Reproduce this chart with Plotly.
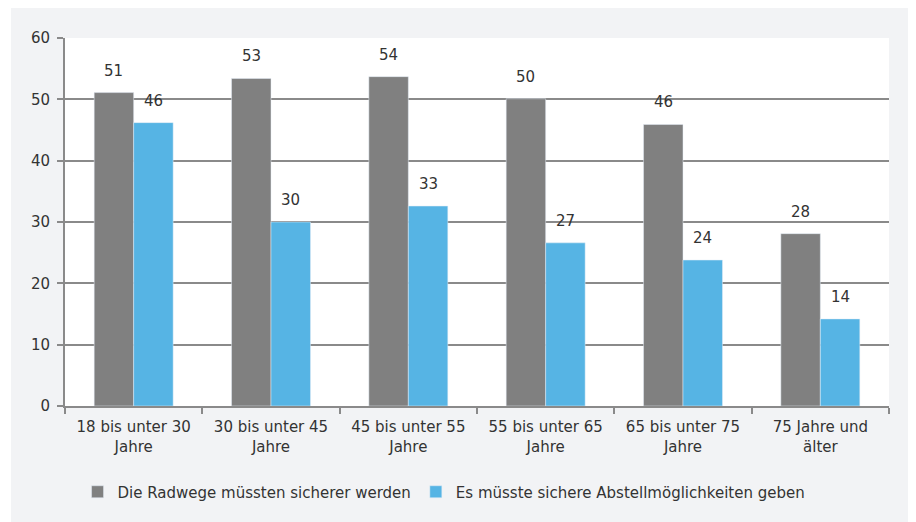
import plotly.graph_objects as go

# Daten
ALTERSGRUPPEN = [
    "18 bis unter 30<br>Jahre",
    "30 bis unter 45<br>Jahre",
    "45 bis unter 55<br>Jahre",
    "55 bis unter 65<br>Jahre",
    "65 bis unter 75<br>Jahre",
    "75 Jahre und<br>älter",
]
RADWEGE = [51.1, 53.4, 53.7, 50.1, 45.9, 28.1]
ABSTELL = [46.2, 30.0, 32.6, 26.6, 23.8, 14.2]
RADWEGE_LABEL = ["51", "53", "54", "50", "46", "28"]
ABSTELL_LABEL = ["46", "30", "33", "27", "24", "14"]

GRAU = "#808080"
BLAU = "#56b4e4"
ACHSE = "#8a8a8a"
TEXT = "#333333"
FONT = "DejaVu Sans"
GROESSE = 15

BARGAP = 0.425
PLOT_W = 824  # Breite der Zeichenfläche in px
BAR_PX = PLOT_W / len(ALTERSGRUPPEN) * (1 - BARGAP) / 2

fig = go.Figure()
fig.add_bar(x=ALTERSGRUPPEN, y=RADWEGE, name="Die Radwege müssten sicherer werden",
            marker_color=GRAU)
fig.add_bar(x=ALTERSGRUPPEN, y=ABSTELL, name="Es müsste sichere Abstellmöglichkeiten geben",
            marker_color=BLAU)

# Wertelabels über den Balken
for werte, labels, versatz in [(RADWEGE, RADWEGE_LABEL, -BAR_PX / 2),
                               (ABSTELL, ABSTELL_LABEL, BAR_PX / 2)]:
    for kat, wert, txt in zip(ALTERSGRUPPEN, werte, labels):
        fig.add_annotation(x=kat, y=wert, text=txt, showarrow=False,
                           xshift=versatz, yshift=22, yanchor="middle",
                           font=dict(size=GROESSE, color=TEXT, family=FONT))

fig.update_layout(
    width=908, height=514,
    barmode="group", bargap=BARGAP, bargroupgap=0,
    paper_bgcolor="#f2f3f5", plot_bgcolor="white",
    margin=dict(l=57, r=27, t=30, b=116, autoexpand=False),
    font=dict(family=FONT, size=GROESSE, color=TEXT),
    legend=dict(
        orientation="h", x=0.46, xanchor="center",
        yref="container", y=30 / 514, yanchor="middle",
        font=dict(size=GROESSE, color=TEXT), itemwidth=30,
        bgcolor="rgba(0,0,0,0)",
    ),
    shapes=[
        dict(type="rect", xref="paper", yref="paper", x0=-0.1, x1=-54 / PLOT_W,
             y0=-0.4, y1=1.2, fillcolor="white", line_width=0, layer="below"),
    ],
)
fig.update_yaxes(
    range=[0, 60], dtick=10, showgrid=True, gridcolor=ACHSE, gridwidth=2,
    showline=True, linecolor=ACHSE, linewidth=2, ticks="outside",
    tickcolor=ACHSE, ticklen=6, tickwidth=2, zeroline=False,
    ticklabelstandoff=4, tickfont=dict(size=GROESSE, color=TEXT),
)
fig.update_xaxes(
    showline=True, linecolor=ACHSE, linewidth=2, ticks="outside",
    tickson="boundaries", tickcolor=ACHSE, ticklen=6, tickwidth=2,
    ticklabelstandoff=6, tickfont=dict(size=GROESSE, color=TEXT),
)

fig.write_html("out.html")
